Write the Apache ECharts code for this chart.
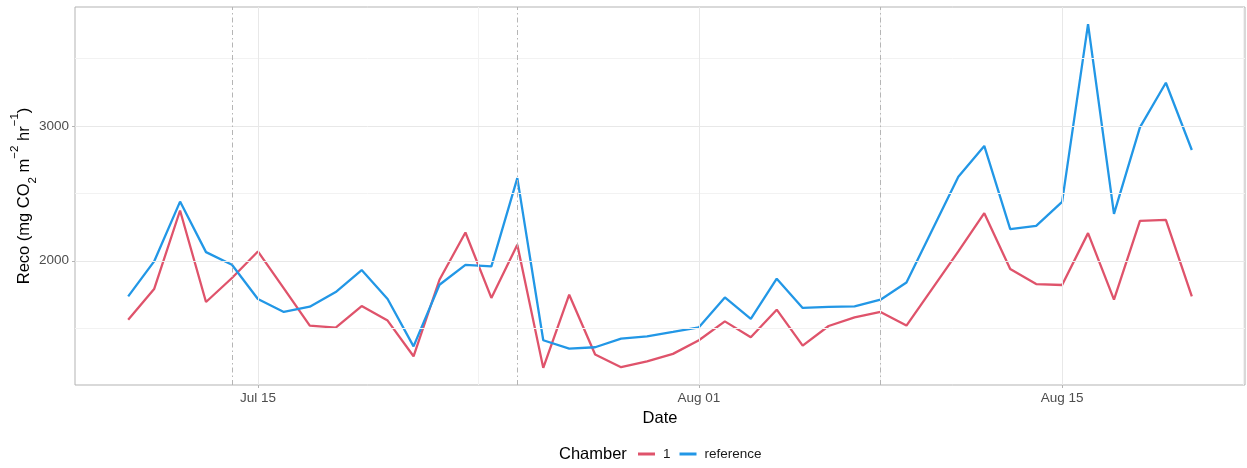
<!DOCTYPE html>
<html>
<head>
<meta charset="utf-8">
<style>
  html, body { margin: 0; padding: 0; background: #fff; }
  #chart { width: 1247px; height: 468px; }
</style>
<script src="https://cdn.jsdelivr.net/npm/echarts@6/dist/echarts.min.js"></script>
</head>
<body>
<div id="chart"></div>
<script>
// Daily ecosystem respiration, chamber 1 vs reference (no data on Aug 10)
const dates = [
  '2023-07-10','2023-07-11','2023-07-12','2023-07-13','2023-07-14','2023-07-15','2023-07-16',
  '2023-07-17','2023-07-18','2023-07-19','2023-07-20','2023-07-21','2023-07-22','2023-07-23',
  '2023-07-24','2023-07-25','2023-07-26','2023-07-27','2023-07-28','2023-07-29','2023-07-30',
  '2023-07-31','2023-08-01','2023-08-02','2023-08-03','2023-08-04','2023-08-05','2023-08-06',
  '2023-08-07','2023-08-08','2023-08-09','2023-08-11','2023-08-12','2023-08-13','2023-08-14',
  '2023-08-15','2023-08-16','2023-08-17','2023-08-18','2023-08-19','2023-08-20'
];
const chamber1 = [
  1563, 1790, 2373, 1694, 1872, 2069, 1795,
  1519, 1504, 1664, 1556, 1291, 1859, 2210,
  1724, 2119, 1205, 1748, 1304, 1210, 1254,
  1309, 1410, 1550, 1432, 1637, 1370, 1516,
  1580, 1620, 1519, 2069, 2353, 1939, 1827,
  1820, 2205, 1711, 2296, 2304, 1736
];
const reference = [
  1736, 1995, 2439, 2064, 1970, 1716, 1620,
  1659, 1768, 1931, 1716, 1365, 1822, 1970,
  1958, 2613, 1410, 1348, 1358, 1422, 1439,
  1472, 1506, 1728, 1568, 1867, 1650, 1657,
  1661, 1711, 1839, 2624, 2852, 2235, 2259,
  2437, 3756, 2348, 2990, 3321, 2822
];
// Event markers (dot-dash vertical lines)
const eventDates = ['2023-07-14', '2023-07-25', '2023-08-08'];
// Axis breaks
const xTickDates = ['2023-07-15', '2023-08-01', '2023-08-15'];
const xMinorDates = ['2023-07-23T12', '2023-08-08', '2023-08-22'];
const yTicks = [2000, 3000];
const yMinor = [1500, 2500, 3500];

const MONTHS = ['Jan','Feb','Mar','Apr','May','Jun','Jul','Aug','Sep','Oct','Nov','Dec'];
const DAY = 86400000;
// dates are kept as UTC milliseconds on a plain value axis
function toTime(s) {
  const [d, h] = s.split('T');
  const [y, m, dd] = d.split('-').map(Number);
  return Date.UTC(y, m - 1, dd, h ? Number(h) : 0);
}
const xs = dates.map(toTime);
const xMin = xs[0] - 2.05 * DAY;
const xMax = xs[xs.length - 1] + 2.05 * DAY;

const gridCol = '#e8e8e8';
const minorCol = '#f2f2f2';
const frameCol = '#b3b3b3';
const FONT = 'Liberation Sans, Arial, sans-serif';

const chart = echarts.init(document.getElementById('chart'));
chart.setOption({
  animation: false,
  textStyle: { fontFamily: FONT },
  grid: {
    left: 75, right: 2, top: 7, bottom: 83,
    containLabel: false, outerBoundsMode: 'none',
    show: true, borderColor: frameCol, borderWidth: 1, backgroundColor: 'transparent'
  },
  xAxis: {
    type: 'value',
    min: xMin, max: xMax,
    name: 'Date', nameLocation: 'middle', nameGap: 21,
    nameTextStyle: { fontSize: 16.5, color: '#000', fontFamily: FONT },
    axisLine: { show: false },
    splitLine: { show: false },
    axisTick: { show: true, length: 3, lineStyle: { color: frameCol }, customValues: xTickDates.map(toTime) },
    axisLabel: {
      customValues: xTickDates.map(toTime),
      fontSize: 13.5, color: '#4d4d4d', margin: 6, fontFamily: FONT,
      formatter: v => { const d = new Date(v); return MONTHS[d.getUTCMonth()] + ' ' + String(d.getUTCDate()).padStart(2, '0'); }
    }
  },
  yAxis: {
    type: 'value',
    min: 1078, max: 3883,
    axisLine: { show: false },
    splitLine: { show: false },
    axisTick: { show: true, length: 3, lineStyle: { color: frameCol }, customValues: yTicks },
    axisLabel: { customValues: yTicks, fontSize: 13.5, color: '#4d4d4d', margin: 6, fontFamily: FONT, formatter: v => String(v) }
  },
  legend: {
    left: 638, top: 447, padding: 0,
    itemWidth: 17, itemHeight: 3, itemGap: 9,
    icon: 'rect',
    textStyle: { fontSize: 13.5, color: '#1a1a1a', fontFamily: FONT, padding: [0, 0, 0, 3] },
    data: ['1', 'reference']
  },
  graphic: [
    {
      type: 'text', left: 559, top: 446,
      style: { text: 'Chamber', fontSize: 16.5, fill: '#000', fontFamily: FONT }
    },
    {
      // y-axis title with sub/superscripts
      type: 'text', x: 24, y: 196, rotation: Math.PI / 2,
      style: {
        text: 'Reco (mg CO{sub|2} m{sup|−2} hr{sup|−1})',
        fontSize: 16.5, fill: '#000', fontFamily: FONT,
        align: 'center', verticalAlign: 'middle', lineHeight: 24,
        rich: {
          sub: { fontSize: 11.5, verticalAlign: 'bottom', lineHeight: 17, fill: '#000', fontFamily: FONT },
          sup: { fontSize: 11.5, verticalAlign: 'top', lineHeight: 30, fill: '#000', fontFamily: FONT }
        }
      }
    }
  ],
  series: [
    {
      // panel grid
      name: 'grid', type: 'line', data: [], silent: true, z: 1,
      markLine: {
        silent: true, symbol: 'none', animation: false, label: { show: false },
        data: [
          ...yMinor.map(v => ({ yAxis: v, lineStyle: { color: minorCol, width: 1, type: 'solid' } })),
          ...xMinorDates.map(s => ({ xAxis: toTime(s), lineStyle: { color: minorCol, width: 1, type: 'solid' } })),
          ...yTicks.map(v => ({ yAxis: v, lineStyle: { color: gridCol, width: 1, type: 'solid' } })),
          ...xTickDates.map(s => ({ xAxis: toTime(s), lineStyle: { color: gridCol, width: 1, type: 'solid' } }))
        ]
      }
    },
    {
      // event markers
      name: 'events', type: 'line', data: [], silent: true, z: 2,
      markLine: {
        silent: true, symbol: 'none', animation: false, label: { show: false },
        lineStyle: { color: '#b5b5b5', width: 1, type: [5, 3, 1.5, 3] },
        data: eventDates.map(s => ({ xAxis: toTime(s) }))
      }
    },
    {
      name: '1', type: 'line', z: 3,
      data: xs.map((t, i) => [t, chamber1[i]]),
      showSymbol: false, symbol: 'none',
      lineStyle: { color: '#DF536B', width: 2.3 },
      itemStyle: { color: '#DF536B' }
    },
    {
      name: 'reference', type: 'line', z: 4,
      data: xs.map((t, i) => [t, reference[i]]),
      showSymbol: false, symbol: 'none',
      lineStyle: { color: '#2297E6', width: 2.3 },
      itemStyle: { color: '#2297E6' }
    }
  ]
});
</script>
</body>
</html>
